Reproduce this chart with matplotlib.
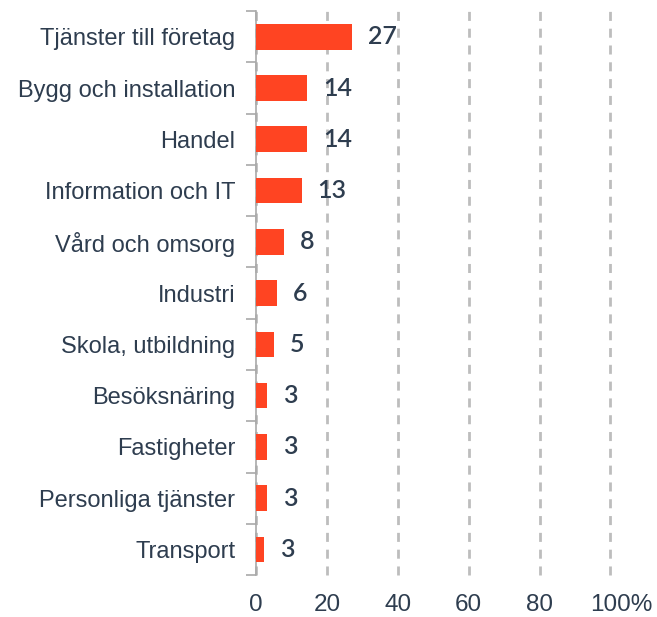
import numpy as np
import matplotlib
matplotlib.use('Agg')
import matplotlib.pyplot as plt
import matplotlib.transforms as mtransforms

##-- data --##
categories = ['Tjänster till företag', 'Bygg och installation', 'Handel',
              'Information och IT', 'Vård och omsorg', 'Industri',
              'Skola, utbildning', 'Besöksnäring', 'Fastigheter',
              'Personliga tjänster', 'Transport']
values = [27.1, 14.3, 14.3, 12.8, 7.8, 5.9, 5.0, 3.1, 3.1, 3.1, 2.3]
labels = ['27', '14', '14', '13', '8', '6', '5', '3', '3', '3', '3']
xticks = [0, 20, 40, 60, 80, 100]
xticklabels = ['0', '20', '40', '60', '80', '100%']

barColor = '#ff4422'
textColor = '#2e3d4f'
gridColor = '#bdbdbd'

fig = plt.figure(figsize=(6.57, 6.17), dpi=100)
ax = fig.add_axes([0.39, 0.068, 0.539, 0.914])

y = np.arange(len(categories))
ax.barh(y, values, height=0.5, color=barColor, zorder=3)

#-- value labels --#
for yi, v, lab in zip(y, values, labels):
    ax.annotate(lab, (v, yi), xytext=(11.5, 0), textcoords='offset points',
                ha='left', va='center', fontsize=18, color=textColor,
                family='Lato', fontweight='semibold')

ax.set_xlim(0, 100)
ax.set_ylim(len(categories) - 0.5, -0.5)

ax.set_xticks(xticks)
ax.set_xticklabels(xticklabels, fontsize=17.5, color=textColor, family='Liberation Sans')
ax.tick_params(axis='x', length=0, pad=14)
#-- the % sign hangs to the right of "100" --#
lastLabel = ax.get_xticklabels()[-1]
lastLabel.set_transform(lastLabel.get_transform() +
                        mtransforms.ScaledTranslation(7.8 / 72, 0, fig.dpi_scale_trans))

ax.set_yticks(y)
ax.set_yticklabels(categories, fontsize=17, color=textColor, family='Liberation Sans')
ax.tick_params(axis='y', which='major', length=0, pad=15)
ax.set_yticks(np.arange(-0.5, len(categories)), minor=True)
ax.tick_params(axis='y', which='minor', length=7, width=1.2, color='#a9a9a9')

ax.grid(axis='x', color=gridColor, linestyle=(0, (3.25, 2.8)), linewidth=2, zorder=0)
for gl in ax.get_xgridlines():
    gl.set_clip_on(False)    #--keep the 100 line at full width.

for side in ['top', 'right', 'bottom']:
    ax.spines[side].set_visible(False)
ax.spines['left'].set_color('#a9a9a9')
ax.spines['left'].set_linewidth(1.2)

fig.savefig('out.png', dpi=100)
